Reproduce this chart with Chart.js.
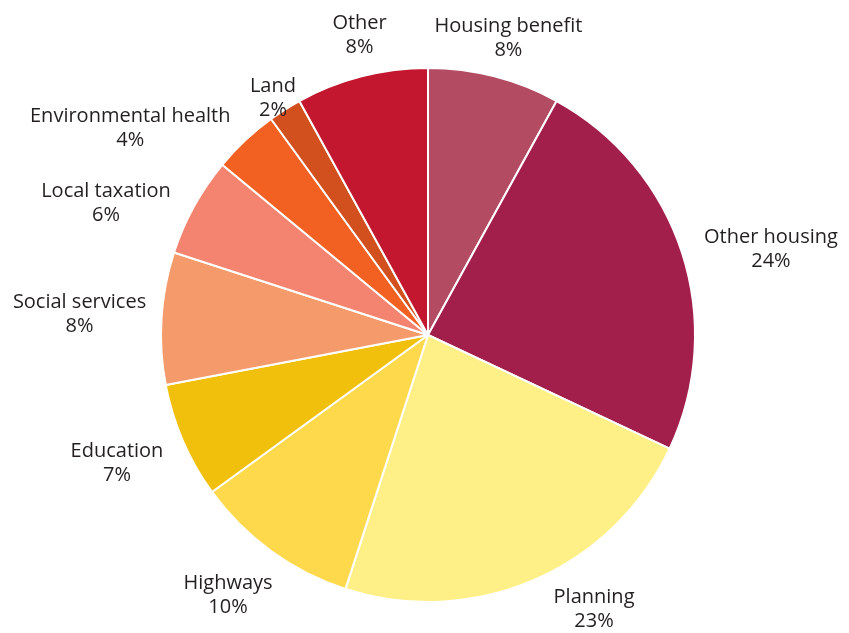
<!DOCTYPE html>
<html>
<head>
<meta charset="utf-8">
<script src="https://cdn.jsdelivr.net/npm/chart.js@4/dist/chart.umd.min.js"></script>
<style>
  html, body { margin: 0; padding: 0; background: #ffffff; }
  #wrap { width: 849px; height: 633px; }
</style>
</head>
<body>
<div id="wrap"><canvas id="spendChart"></canvas></div>
<script>
// Share of spending by service area (percent)
var categories = [
    'Housing benefit',
    'Other housing',
    'Planning',
    'Highways',
    'Education',
    'Social services',
    'Local taxation',
    'Environmental health',
    'Land',
    'Other'
];
var shares = [8, 24, 23, 10, 7, 8, 6, 4, 2, 8];
var sliceColours = [
    '#b34b63',
    '#a31f4b',
    '#fef087',
    '#fdd94b',
    '#f0c00d',
    '#f59b6b',
    '#f4846f',
    '#f26122',
    '#d24f1e',
    '#c2172e'
];

// Label offsets from the outer edge of each slice, at its mid angle
var labelOffsets = [
    [14, -38], [89, -3], [60, 29], [-43, 44], [-66, 22],
    [-82, -4], [-88, -3], [-115, -12], [-12, -11], [-2, -41]
];

var sliceLabels = {
    id: 'sliceLabels',
    afterDatasetsDraw: function (chart) {
        var ctx = chart.ctx;
        var arcs = chart.getDatasetMeta(0).data;
        ctx.save();
        ctx.fillStyle = '#231f20';
        ctx.font = '20px "Open Sans", sans-serif';
        ctx.textAlign = 'center';
        ctx.textBaseline = 'middle';
        arcs.forEach(function (arc, i) {
            var mid = (arc.startAngle + arc.endAngle) / 2;
            var x = arc.x + Math.cos(mid) * arc.outerRadius + labelOffsets[i][0];
            var y = arc.y + Math.sin(mid) * arc.outerRadius + labelOffsets[i][1];
            ctx.fillText(categories[i], x, y - 12);
            ctx.fillText(shares[i] + '%', x, y + 12);
        });
        ctx.restore();
    }
};

new Chart(document.getElementById('spendChart'), {
    type: 'pie',
    data: {
        labels: categories,
        datasets: [{
            data: shares,
            backgroundColor: sliceColours,
            borderColor: '#ffffff',
            borderWidth: 2
        }]
    },
    options: {
        responsive: true,
        maintainAspectRatio: false,
        animation: false,
        layout: {
            padding: { top: 67, bottom: 30, left: 160, right: 153 }
        },
        plugins: {
            legend: { display: false },
            tooltip: { enabled: false }
        }
    },
    plugins: [sliceLabels]
});
</script>
</body>
</html>
